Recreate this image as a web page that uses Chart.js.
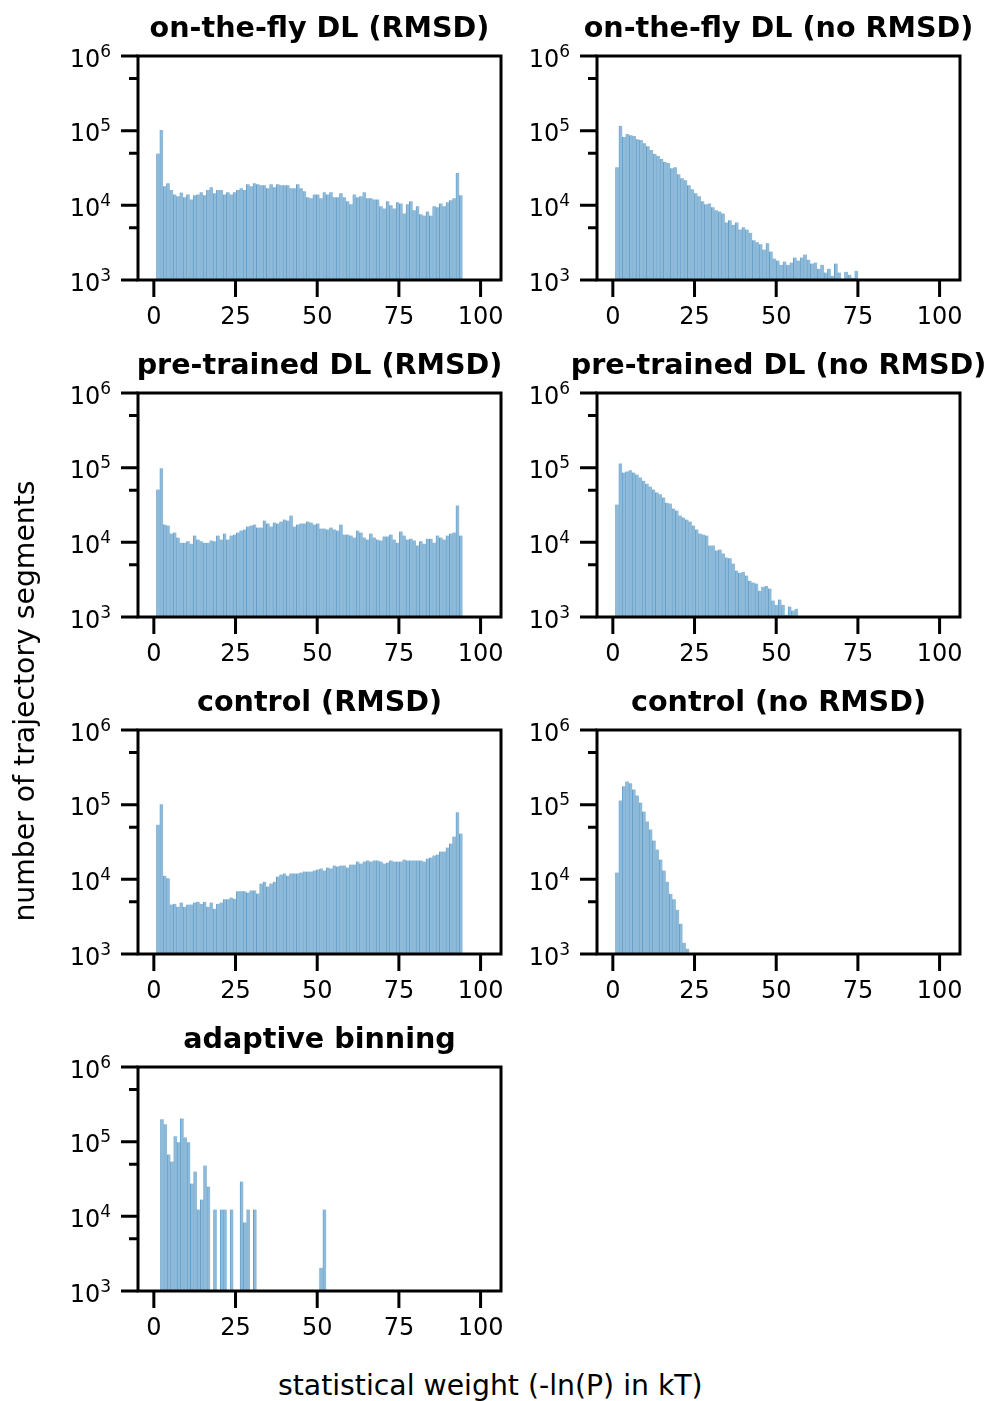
<!DOCTYPE html>
<html><head><meta charset="utf-8">
<script src="https://cdn.jsdelivr.net/npm/chart.js@4/dist/chart.umd.min.js"></script>
<style>
html,body{margin:0;padding:0;background:#fff;}
body{width:987px;height:1401px;position:relative;overflow:hidden;}
canvas{position:absolute;}
.lab{position:absolute;font-family:"DejaVu Sans";font-size:28.3px;line-height:28px;height:28px;white-space:nowrap;text-align:center;color:#000;width:600px;}
</style></head><body>
<script>
// ---------------- data ----------------
const titles = ['on-the-fly DL (RMSD)', 'on-the-fly DL (no RMSD)', 'pre-trained DL (RMSD)', 'pre-trained DL (no RMSD)', 'control (RMSD)', 'control (no RMSD)', 'adaptive binning'];

const countsOtfRmsd = [49500, 102000, 18000, 19800, 16000, 14000, 13200, 14800, 12800, 14000,
 12000, 13600, 14000, 15000, 13600, 16000, 17500, 14500, 16000, 16000,
 14000, 15000, 14000, 15000, 16000, 17000, 16000, 19200, 18000, 19800,
 19200, 18600, 18600, 17000, 19200, 17500, 19200, 18600, 18600, 18600,
 17000, 17000, 19200, 17000, 15400, 12800, 12400, 14000, 14000, 12400,
 15000, 14000, 15000, 12800, 12800, 14500, 12800, 11300, 10300, 14000,
 12800, 13200, 15000, 12400, 12400, 12000, 12000, 9700, 9100, 11300,
 10000, 9100, 11000, 10600, 7800, 10300, 11300, 8600, 9700, 7600,
 7300, 8300, 7300, 9700, 9400, 10600, 9700, 11000, 11700, 12400,
 27000, 13600];

const countsOtfNoRmsd = [32400, 116000, 82000, 90000, 87000, 85000, 77000, 75000, 68000, 62000,
 55000, 49000, 46000, 42000, 38000, 37000, 31500, 32400, 26000, 23000,
 21700, 18600, 16400, 14500, 13200, 11300, 10300, 10600, 9400, 8600,
 8300, 7800, 5900, 6300, 5500, 5900, 4750, 5100, 4750, 4300,
 3400, 3200, 3000, 2560, 3100, 2400, 1940, 1820, 1600, 1770,
 1600, 1710, 2000, 1820, 2000, 2190, 1870, 1660, 1710, 1420,
 1600, 1260, 1420, 1140, 1660, 1260, 1040, 1290, 1180, 1070,
 1330];

const countsPtRmsd = [51000, 98000, 17300, 16800, 13100, 13500, 11600, 9900, 9900, 10300,
 9600, 12300, 10900, 10300, 9900, 9900, 10600, 10300, 12300, 10900,
 13100, 10900, 12300, 12700, 13500, 14400, 14900, 16300, 16800, 17300,
 15800, 15800, 19600, 17900, 16300, 18400, 17900, 19000, 20200, 19600,
 22900, 16300, 17300, 17900, 17900, 19000, 18400, 17300, 17900, 15300,
 15300, 14900, 15800, 14900, 14400, 17300, 12700, 12700, 12300, 11600,
 14400, 13500, 11600, 10900, 13100, 11600, 10900, 10600, 12000, 12000,
 12700, 10900, 9900, 14000, 12300, 10900, 11200, 10600, 9100, 10300,
 9600, 11200, 11200, 9900, 12300, 11600, 10900, 12300, 13100, 13500,
 31200, 12300];

const countsPtNoRmsd = [32000, 114000, 86000, 89000, 92000, 86000, 81000, 74000, 67000, 61000,
 56000, 51000, 46600, 44000, 40000, 34000, 33000, 28400, 26700, 22900,
 21500, 20200, 19000, 16800, 14900, 13100, 12700, 12300, 9100, 9100,
 7800, 8000, 7100, 6250, 6100, 5200, 4200, 3900, 4000, 3600,
 3070, 2890, 2800, 2250, 2550, 2600, 2400, 1660, 1460, 1710,
 1460, 1070, 1380, 1220, 1290];

const countsCtrlRmsd = [54000, 101000, 11200, 10300, 4600, 4700, 4300, 4900, 4300, 4600,
 4600, 4900, 5000, 4700, 5000, 4300, 4900, 4050, 4700, 4900,
 5400, 5400, 5700, 5500, 6900, 6900, 6900, 6650, 7100, 7100,
 6450, 8800, 9300, 8000, 8800, 9300, 10900, 11600, 12000, 11200,
 12000, 12000, 12000, 12300, 12700, 12700, 12700, 13100, 13500, 14000,
 13100, 14400, 14000, 15300, 14900, 15300, 15300, 14400, 15800, 15800,
 17300, 16300, 17300, 17900, 17300, 17900, 17900, 17300, 16300, 16800,
 17900, 17300, 17300, 17300, 18400, 17900, 17900, 17900, 17900, 17900,
 17300, 19000, 19600, 20900, 21500, 23600, 23600, 26700, 30200, 37500,
 79000, 41000];

const countsCtrlNoRmsd = [12300, 114000, 176000, 205000, 193000, 160000, 133000, 107000, 81000, 59700,
 46600, 33000, 25000, 18400, 13100, 9300, 6400, 5400, 3900, 2550,
 1420, 1180];

const countsAdaptive = [199000, 171000, 67500, 54300, 118000, 98000, 205000, 114000, 98000, 27500,
 39900, 12300, 16800, 48000, 25100, null, 12300, null, 12300, 12300,
 null, 12300, null, null, 29300, 8300, 12300, null, 12300, null,
 null, null, null, null, null, null, null, null, null, null,
 null, null, null, null, null, null, null, null, 2050, 12300];

// histogram range (left edge of first bin, right edge of last bin) per panel
const binLo = [0.82, 0.82, 0.82, 0.82, 0.82, 0.82, 2.04];
const binHi = [94.5, 75.1, 94.5, 56.7, 94.5, 23.4, 52.76];

const xTickValues = [0, 25, 50, 75, 100];
const xTickLabels = ['0', '25', '50', '75', '100'];
const yMajorValues = [1e3, 1e4, 1e5, 1e6];
const yMajorBase = ['10', '10', '10', '10'];
const yMajorExp = ['3', '4', '5', '6'];
const yMinorValues = [5e3, 5e4, 5e5];

const xLabel = 'statistical weight (-ln(P) in kT)';
const yLabel = 'number of trajectory segments';

// ---------------- layout ----------------
const seriesList = [countsOtfRmsd, countsOtfNoRmsd, countsPtRmsd, countsPtNoRmsd, countsCtrlRmsd, countsCtrlNoRmsd, countsAdaptive];
const colLeft = [138, 597];
const rowTop = [56, 393, 730, 1067];
const AW = 363, AH = 224;
const padL = 110, padT = 56, padR = 27, padB = 64;
const FONT = 'DejaVu Sans';

const deco = {
  id: 'panelDeco',
  afterDraw(chart, args, opts) {
    const {ctx, chartArea: a} = chart;
    const x = chart.scales.x, y = chart.scales.y;
    ctx.save();
    ctx.strokeStyle = '#000';
    ctx.lineCap = 'butt';
    ctx.lineWidth = 3;
    ctx.beginPath();
    xTickValues.forEach(v => { const p = x.getPixelForValue(v); ctx.moveTo(p, a.bottom); ctx.lineTo(p, a.bottom + 17); });
    yMajorValues.forEach(v => { const p = y.getPixelForValue(v); ctx.moveTo(a.left, p); ctx.lineTo(a.left - 17, p); });
    yMinorValues.forEach(v => { const p = y.getPixelForValue(v); ctx.moveTo(a.left, p); ctx.lineTo(a.left - 9, p); });
    ctx.stroke();
    ctx.strokeRect(a.left, a.top, a.right - a.left, a.bottom - a.top);
    ctx.fillStyle = '#000';
    // y tick labels as 10 with raised exponent
    ctx.textAlign = 'left';
    ctx.textBaseline = 'alphabetic';
    yMajorValues.forEach((v, k) => {
      const p = y.getPixelForValue(v);
      ctx.font = '24px "' + FONT + '"';
      const wb = ctx.measureText(yMajorBase[k]).width;
      ctx.font = '17px "' + FONT + '"';
      const we = ctx.measureText(yMajorExp[k]).width;
      const x0 = a.left - 27 - wb - we;
      ctx.font = '24px "' + FONT + '"';
      ctx.fillText(yMajorBase[k], x0, p + 10.5);
      ctx.font = '17px "' + FONT + '"';
      ctx.fillText(yMajorExp[k], x0 + wb, p + 0.5);
    });
    ctx.font = 'bold 28.6px "' + FONT + '"';
    ctx.textAlign = 'center';
    ctx.fillText(opts.title, (a.left + a.right) / 2, a.top - 19);
    ctx.restore();
  }
};

function makePanel(idx, r, c) {
  const counts = seriesList[idx];
  const W = AW + padL + padR, H = AH + padT + padB;
  const cv = document.createElement('canvas');
  cv.width = W; cv.height = H;
  cv.style.left = (colLeft[c] - padL) + 'px';
  cv.style.top = (rowTop[r] - padT) + 'px';
  cv.style.width = W + 'px'; cv.style.height = H + 'px';
  document.body.appendChild(cv);
  const n = counts.length, lo = binLo[idx], bw = (binHi[idx] - lo) / n;
  const pts = counts.map((v, i) => ({x: lo + (i + 0.5) * bw, y: v}));
  const hiddenGrid = {display: true, drawOnChartArea: false, drawTicks: true, tickLength: 17, color: 'rgba(0,0,0,0)', offset: false};
  new Chart(cv, {
    type: 'bar',
    data: {datasets: [{
      data: pts,
      backgroundColor: '#8fbbd9',
      borderColor: '#4f92c5',
      borderWidth: {left: 0.7, right: 0, top: 0, bottom: 0},
      borderSkipped: false,
      barPercentage: 1,
      categoryPercentage: 1
    }]},
    options: {
      responsive: false, animation: false, devicePixelRatio: 1,
      layout: {padding: {left: 0, top: padT, right: padR, bottom: 0}},
      plugins: {legend: {display: false}, tooltip: {enabled: false}, title: {display: false}, panelDeco: {title: titles[idx]}},
      scales: {
        x: {
          type: 'linear', min: -4.85, max: 106.25, offset: false,
          grid: hiddenGrid, border: {display: false},
          afterBuildTicks: s => { s.ticks = xTickValues.map(v => ({value: v})); },
          afterFit: s => { s.height = padB; },
          ticks: {autoSkip: false, maxRotation: 0, minRotation: 0, padding: 6, color: '#000', font: {family: FONT, size: 24},
            callback: v => { const k = xTickValues.indexOf(v); return k >= 0 ? xTickLabels[k] : ''; }}
        },
        y: {
          type: 'logarithmic', min: 1e3, max: 1e6,
          grid: hiddenGrid, border: {display: false},
          afterBuildTicks: s => { s.ticks = yMajorValues.concat(yMinorValues).sort((a, b) => a - b).map(v => ({value: v})); },
          afterFit: s => { s.width = padL; },
          ticks: {display: false, autoSkip: false}
        }
      }
    },
    plugins: [deco]
  });
}

const order = [[0,0],[0,1],[1,0],[1,1],[2,0],[2,1],[3,0]];
order.forEach((rc, i) => makePanel(i, rc[0], rc[1]));

const yl = document.createElement('div');
yl.className = 'lab'; yl.textContent = yLabel;
yl.style.left = (25 - 300) + 'px'; yl.style.top = (701 - 14) + 'px';
yl.style.transform = 'rotate(-90deg)';
document.body.appendChild(yl);
const xl = document.createElement('div');
xl.className = 'lab'; xl.textContent = xLabel;
xl.style.left = (490.3 - 300) + 'px'; xl.style.top = '1372px';
document.body.appendChild(xl);
</script>
</body></html>
